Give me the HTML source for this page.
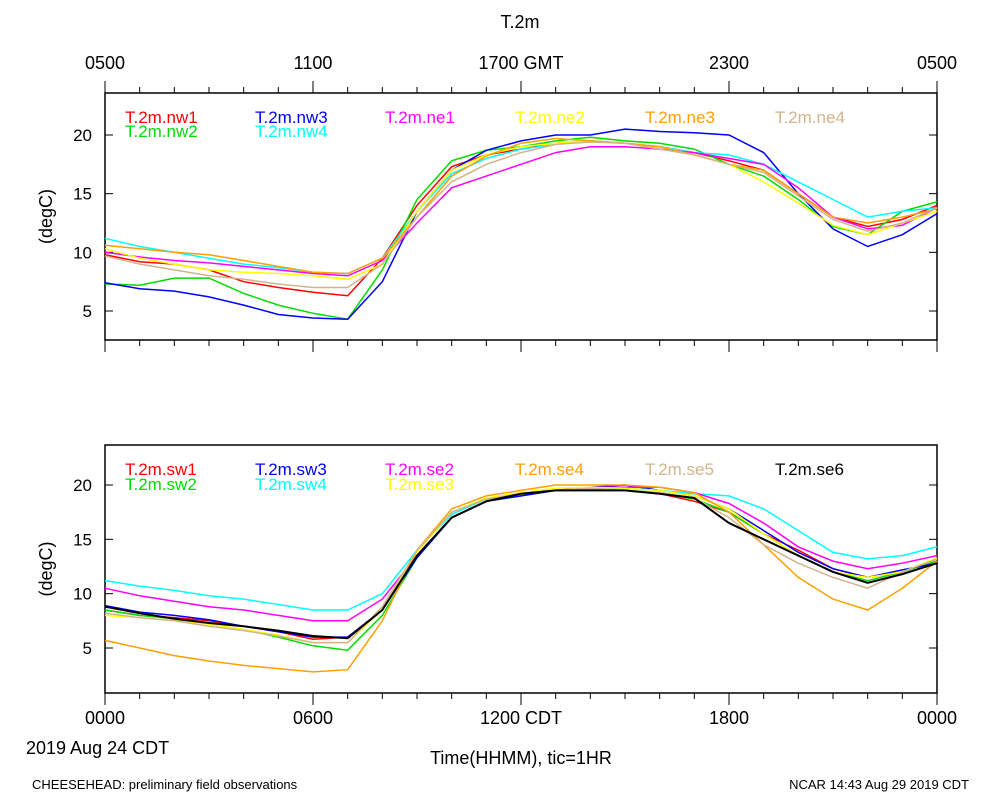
<!DOCTYPE html>
<html><head><meta charset="utf-8"><style>
body{margin:0;background:#fff;}
svg{font-family:"Liberation Sans",sans-serif;}
</style></head><body>
<svg id="chart" width="1000" height="800" viewBox="0 0 1000 800" xmlns="http://www.w3.org/2000/svg">
<text x="520" y="28" font-size="18" text-anchor="middle">T.2m</text>
<g id="topAxisLabels"></g>
<g id="p1"></g>
<g id="p2"></g>
<text x="105" y="724" font-size="18" text-anchor="middle">0000</text>
<text x="313" y="724" font-size="18" text-anchor="middle">0600</text>
<text x="521" y="724" font-size="18" text-anchor="middle">1200 CDT</text>
<text x="729" y="724" font-size="18" text-anchor="middle">1800</text>
<text x="937" y="724" font-size="18" text-anchor="middle">0000</text>
<text x="26" y="754" font-size="18">2019 Aug 24 CDT</text>
<text x="521" y="764" font-size="18" text-anchor="middle">Time(HHMM), tic=1HR</text>
<text x="32" y="789" font-size="13">CHEESEHEAD: preliminary field observations</text>
<text x="969" y="789" font-size="13" text-anchor="end">NCAR 14:43 Aug 29 2019 CDT</text>
</svg>
<script>
const hours=[0,1,2,3,4,5,6,7,8,9,10,11,12,13,14,15,16,17,18,19,20,21,22,23,24];
const yTicks=[5,10,15,20];
const topTickLabels=["0500","1100","1700 GMT","2300","0500"];
const nw1=[9.8,9.2,9.0,8.5,7.5,7.0,6.6,6.3,9.5,14,17.3,18.3,18.8,19.3,19.5,19.3,19,18.5,17.8,17,15,13,12.2,12.8,14];
const nw2=[7.3,7.2,7.8,7.8,6.5,5.5,4.8,4.3,8.5,14.5,17.8,18.7,19,19.5,19.8,19.5,19.3,18.8,17.5,16.5,14.5,12.2,11.5,13.5,14.3];
const nw3=[7.4,6.9,6.7,6.2,5.5,4.7,4.4,4.3,7.5,13.5,17,18.7,19.5,20,20,20.5,20.3,20.2,20,18.5,15,12,10.5,11.5,13.3];
const nw4=[11.2,10.5,10,9.5,9,8.7,8.3,8.2,9.5,13.5,16.7,18,18.8,19.2,19.5,19.3,19,18.5,18.3,17.5,16,14.5,13,13.5,13.8];
const ne1=[10,9.6,9.3,9.1,8.8,8.5,8.2,8,9.3,12.5,15.5,16.5,17.5,18.5,19,19,18.8,18.5,18,17.5,15.5,13,12,12.3,13.8];
const ne2=[10.3,9.5,9,8.5,8.3,8.2,8,7.7,9,13.5,17,18.3,19,19.3,19.5,19.3,19,18.3,17.5,16,14.2,12.3,11.5,12.5,13.5];
const ne3=[10.6,10.3,10,9.8,9.3,8.8,8.3,8.2,9.5,13,16.5,18.2,19.3,19.7,19.5,19.3,19,18.3,17.5,17,15,13,12.5,13,13.7];
const ne4=[9.7,9,8.5,8,7.7,7.3,7,7,9,13,16,17.5,18.5,19.2,19.4,19.3,18.8,18.3,17.5,16.8,14.8,12.8,11.8,12.5,13.8];
const sw1=[8.5,8,7.8,7.5,7,6.5,5.8,6,8.5,13.5,17,18.5,19,19.5,19.5,19.5,19.2,18.5,17.5,15.5,14,12.3,11.5,12,13.2];
const sw2=[8.5,8,7.7,7.2,6.7,6,5.2,4.8,8,13.3,17,18.5,19,19.5,19.5,19.5,19.3,18.7,17.5,15.5,13.5,12,11.2,12,13];
const sw3=[8.9,8.3,8,7.6,7,6.5,6,6,8.5,13.3,17,18.5,19,19.5,19.8,20,19.5,19,17.8,15.8,13.8,12.3,11.5,12.2,12.8];
const sw4=[11.2,10.7,10.3,9.8,9.5,9,8.5,8.5,10,14,17.3,18.7,19.2,19.5,19.6,19.7,19.5,19.2,19,17.8,15.8,13.8,13.2,13.5,14.3];
const se2=[10.5,9.8,9.3,8.8,8.5,8,7.5,7.5,9.5,13.5,17,18.5,19.2,19.5,19.8,19.8,19.8,19.3,18.3,16.5,14.3,13,12.3,12.8,13.5];
const se3=[8,7.8,7.5,7.2,6.7,6.2,5.5,5.5,8.5,13.8,17.5,18.8,19.3,19.7,19.8,19.7,19.5,19,17.8,15.5,13.5,12,11.5,12,13.3];
const se4=[5.7,5,4.3,3.8,3.4,3.1,2.8,3,7.5,14,17.8,19,19.5,20,20,20,19.8,19.3,17.5,14.5,11.5,9.5,8.5,10.5,13];
const se5=[8.2,7.8,7.5,7,6.6,6.1,5.5,5.5,8.8,14,17.5,18.7,19.2,19.5,19.7,19.5,19.3,18.8,17,14.5,12.8,11.5,10.5,12,13.2];
const se6=[8.8,8.2,7.7,7.3,7,6.6,6.1,5.9,8.5,13.5,17,18.5,19.2,19.5,19.5,19.5,19.2,18.8,16.5,15,13.5,12,11,11.8,12.8];

const NS="http://www.w3.org/2000/svg";
const X0=105,X1=937;
function xs(h){return X0+(X1-X0)*h/24;}
function mk(tag,attrs,parent){const e=document.createElementNS(NS,tag);for(const k in attrs)e.setAttribute(k,attrs[k]);parent.appendChild(e);return e;}

const panels=[
 {g:'p1',top:93,bot:340,y5:311,y20:135,series:[
  ['T.2m.nw1',nw1,'#ff0000',125,123],['T.2m.nw2',nw2,'#00dd00',125,137],
  ['T.2m.nw3',nw3,'#0000ff',255,123],['T.2m.nw4',nw4,'#00ffff',255,137],
  ['T.2m.ne1',ne1,'#ff00ff',385,123],['T.2m.ne2',ne2,'#ffff00',515,123],
  ['T.2m.ne3',ne3,'#ffa000',645,123],['T.2m.ne4',ne4,'#d2b48c',775,123]]},
 {g:'p2',top:445,bot:693,y5:648,y20:485,series:[
  ['T.2m.sw1',sw1,'#ff0000',125,475],['T.2m.sw2',sw2,'#00dd00',125,490],
  ['T.2m.sw3',sw3,'#0000ff',255,475],['T.2m.sw4',sw4,'#00ffff',255,490],
  ['T.2m.se2',se2,'#ff00ff',385,475],['T.2m.se3',se3,'#ffff00',385,490],
  ['T.2m.se4',se4,'#ffa000',515,475],['T.2m.se5',se5,'#d2b48c',645,475],
  ['T.2m.se6',se6,'#000000',775,475]]}
];
panels.forEach((p,pi)=>{
 const g=document.getElementById(p.g);
 const ys=v=>p.y5+(v-5)*(p.y20-p.y5)/15;
 const frame=mk('rect',{x:X0,y:p.top,width:X1-X0,height:p.bot-p.top,fill:'none',stroke:'#000','stroke-width':1.5},g);
 
 
 hours.forEach(h=>{
  const len=(h%6===0)?12:6;
  const t=mk('line',{x1:xs(h),x2:xs(h),y1:p.bot,y2:p.bot+len,stroke:'#000'},g);
  
  
  if(pi===0){const t2=mk('line',{x1:xs(h),x2:xs(h),y1:p.top,y2:p.top-len,stroke:'#000'},g);
   
   }
 });
 yTicks.forEach(v=>{
  const t=mk('line',{x1:X0,x2:X0+8,y1:ys(v),y2:ys(v),stroke:'#000'},g);
  
  
  const t3=mk('line',{x1:X1-8,x2:X1,y1:ys(v),y2:ys(v),stroke:'#000'},g);
  
  
  const l=mk('text',{x:92,y:ys(v)+6,'font-size':17,'text-anchor':'end'},g);
  l.textContent=v;
  
  
 });
 const yt=mk('text',{x:0,y:0,'font-size':18,'text-anchor':'middle',transform:`translate(52,${(p.top+p.bot)/2}) rotate(-90)`},g);
 yt.textContent='(degC)';
 
 
 p.series.forEach(s=>{
  const d=s[1].map((v,i)=>(i?'L':'M')+xs(hours[i]).toFixed(1)+','+ys(v).toFixed(1)).join('');
  const path=mk('path',{d:d,fill:'none',stroke:s[2],'stroke-width':s[2]==='#000000'?2:1.5},g);
  
  
  const lt=mk('text',{x:s[3],y:s[4],'font-size':17,fill:s[2]},g);
  lt.textContent=s[0];
  
  
 });
});
const tg=document.getElementById('topAxisLabels');
topTickLabels.forEach((s,i)=>{
 const t=mk('text',{x:xs(i*6),y:69,'font-size':18,'text-anchor':'middle'},tg);
 t.textContent=s;
 
 
});
</script>
</body></html>
